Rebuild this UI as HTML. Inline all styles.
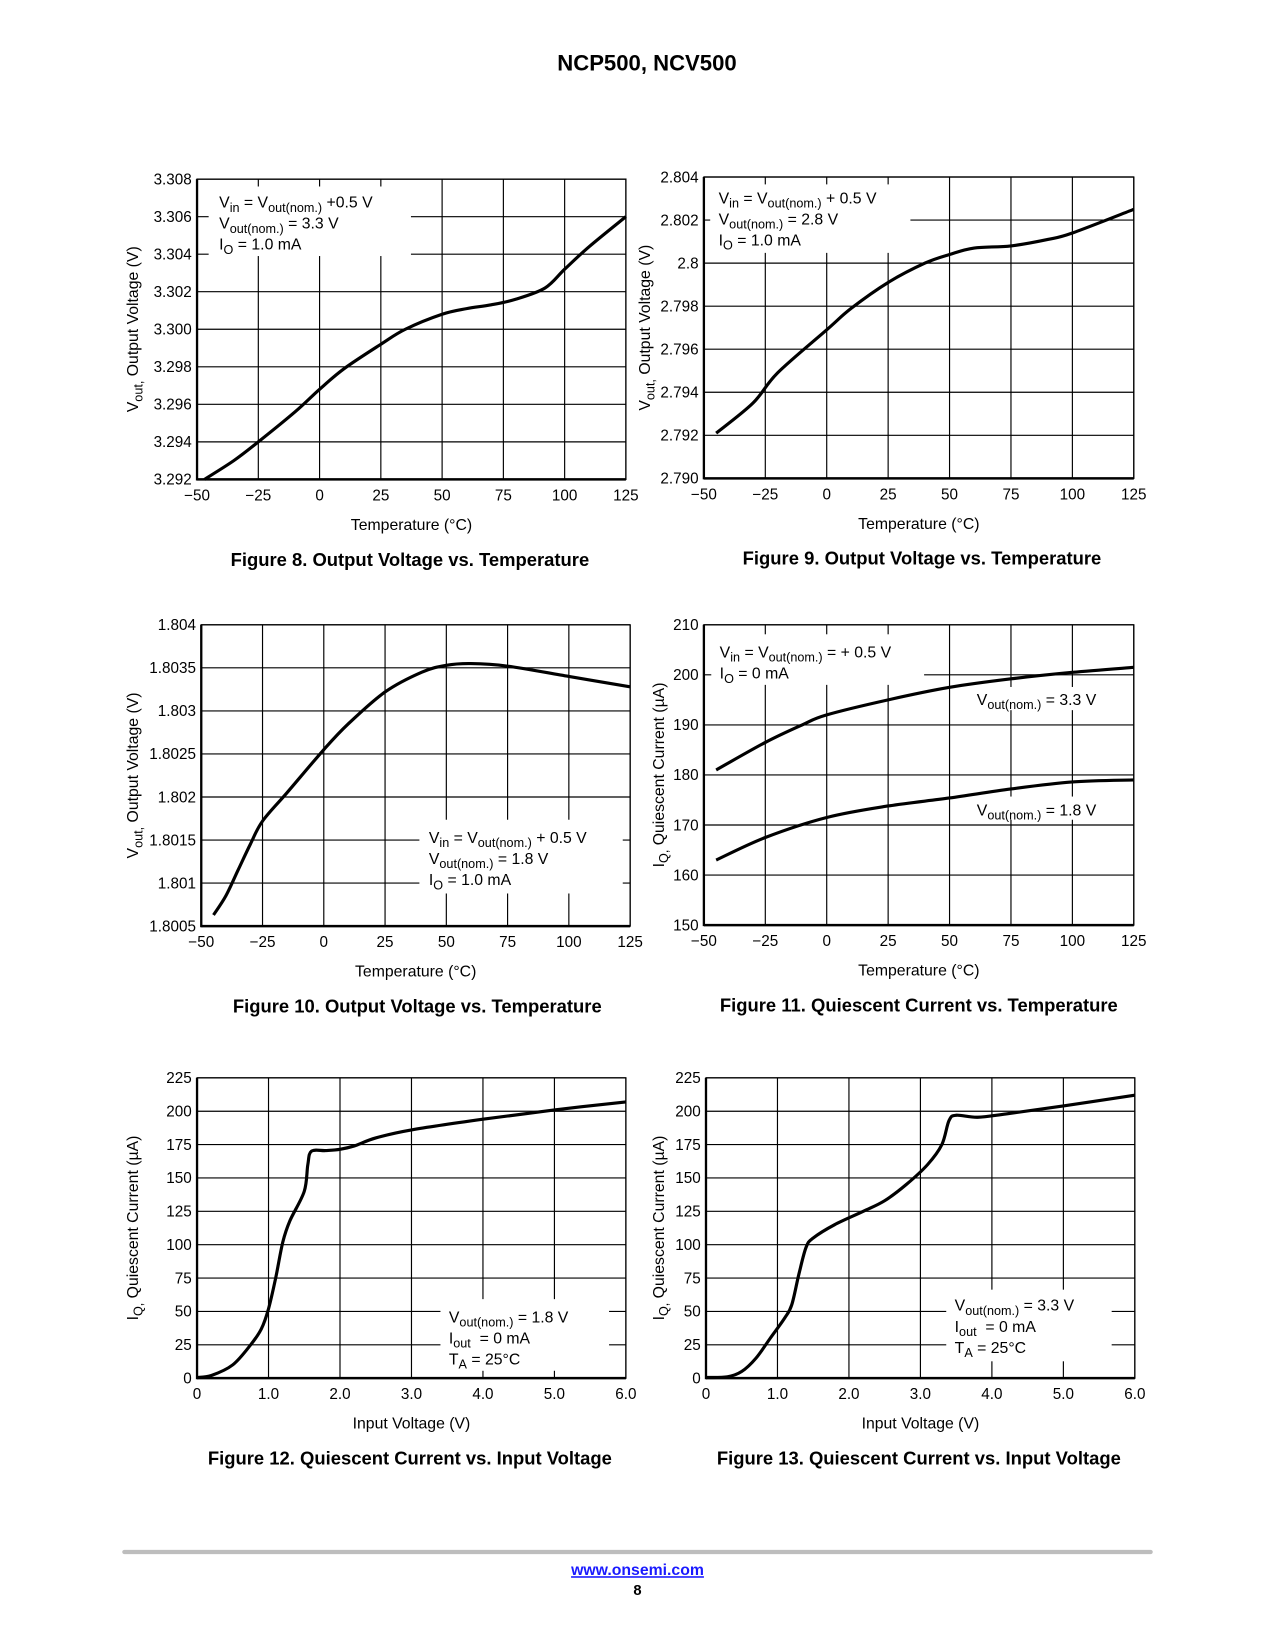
<!DOCTYPE html>
<html><head><meta charset="utf-8"><style>
html,body{margin:0;padding:0;background:#fff;}
svg{display:block;font-family:"Liberation Sans",sans-serif;}
</style></head><body>
<svg id="page" width="1275" height="1650" viewBox="0 0 1210 1566" preserveAspectRatio="none">
<text x="614" y="67" text-anchor="middle" font-size="21" font-weight="bold">NCP500, NCV500</text>
<g id="charts"></g>
<rect x="116" y="1471" width="978" height="4" rx="2" fill="#bdbdbd"/>
<text x="605" y="1495" text-anchor="middle" font-size="15" font-weight="bold" fill="#1a1aff" text-decoration="underline">www.onsemi.com</text>
<text x="605" y="1514" text-anchor="middle" font-size="14" font-weight="bold">8</text>
</svg>
<script>
// ---- data ----
const tempTicks = [-50,-25,0,25,50,75,100,125];
const vinTicks = [0,1,2,3,4,5,6];
const vinTickLabels = ["0","1.0","2.0","3.0","4.0","5.0","6.0"];
const f8Y = ["3.292","3.294","3.296","3.298","3.300","3.302","3.304","3.306","3.308"];
const f8T = [-47,-35,-25,-10,0,10,25,35,50,60,70,80,92,100,110,125];
const f8V = [3.2920,3.2930,3.2940,3.2956,3.2968,3.2979,3.2992,3.3000,3.3008,3.3011,3.3013,3.3016,3.3022,3.3032,3.3044,3.3060];
const f9Y = ["2.790","2.792","2.794","2.796","2.798","2.8","2.802","2.804"];
const f9T = [-45,-30,-20,0,10,25,40,50,60,75,90,100,125];
const f9V = [2.7921,2.7935,2.7949,2.7969,2.7979,2.7991,2.8000,2.8004,2.8007,2.8008,2.8011,2.8014,2.8025];
const f10Y = ["1.8005","1.801","1.8015","1.802","1.8025","1.803","1.8035","1.804"];
const f10T = [-45,-40,-35,-30,-25,-15,0,10,25,40,50,60,75,100,125];
const f10V = [1.80063,1.80085,1.80115,1.80145,1.80172,1.80205,1.80255,1.80285,1.80322,1.80345,1.80353,1.80355,1.80352,1.80340,1.80328];
const f11Y = ["150","160","170","180","190","200","210"];
const f11T = [-45,-25,-10,0,25,50,75,100,125];
const f11A = [181,186.5,190,192,195,197.5,199.2,200.5,201.5];
const f11T2 = [-45,-25,0,25,50,75,100,125];
const f11B = [163,167.5,171.5,173.8,175.4,177.2,178.6,179];
const iqY = ["0","25","50","75","100","125","150","175","200","225"];
const f12X = [0,0.2,0.5,0.75,0.9,1.0,1.1,1.2,1.3,1.5,1.55,1.6,1.8,2.0,2.2,2.5,3.0,4.0,5.0,6.0];
const f12V = [0.5,2,10,25,37,52,75,102,118,140,160,170,170.5,171.5,174,180,186,194,201,207];
const f13X = [0,0.3,0.5,0.7,0.9,1.1,1.2,1.3,1.4,1.5,1.8,2.2,2.5,2.8,3.1,3.3,3.4,3.5,3.8,4.2,5.0,6.0];
const f13V = [0.5,1,5,15,30,45,55,78,98,105,115,125,133,145,160,175,193,197,195.5,198,204,212];

const NS = "http://www.w3.org/2000/svg";
const root = document.getElementById('charts');
function mk(tag, attrs, parent){const e=document.createElementNS(NS,tag);for(const k in attrs)e.setAttribute(k,attrs[k]);(parent||root).appendChild(e);return e;}
function smooth(pts){
  let d="M"+pts[0][0]+","+pts[0][1];
  for(let i=0;i<pts.length-1;i++){
    const p0=pts[i-1]||pts[i],p1=pts[i],p2=pts[i+1],p3=pts[i+2]||p2;
    const c1=[p1[0]+(p2[0]-p0[0])/6,p1[1]+(p2[1]-p0[1])/6];
    const c2=[p2[0]-(p3[0]-p1[0])/6,p2[1]-(p3[1]-p1[1])/6];
    d+=" C"+c1[0]+","+c1[1]+" "+c2[0]+","+c2[1]+" "+p2[0]+","+p2[1];
  }
  return d;
}
function chart(o){
  const g=mk('g',{});
  
  
  const {x0,x1,y0,y1}=o;
  const xs=v=>x0+(v-o.xmin)/(o.xmax-o.xmin)*(x1-x0);
  const ymin=parseFloat(o.yLabels[0]), ymax=parseFloat(o.yLabels[o.yLabels.length-1]);
  const ys=v=>y1-(v-ymin)/(ymax-ymin)*(y1-y0);
  // grid
  o.xTicks.forEach((t,i)=>{
    const l=mk('line',{x1:xs(t),x2:xs(t),y1:y0,y2:y1,stroke:'#000','stroke-width':1.1},g);
    
    
    const tx=mk('text',{x:xs(t),y:y1+20,'text-anchor':'middle','font-size':14.5},g);
    
    
    tx.textContent=o.xLabels[i];
  });
  o.yLabels.forEach(s=>{
    const v=parseFloat(s);
    const l=mk('line',{x1:x0,x2:x1,y1:ys(v),y2:ys(v),stroke:'#000','stroke-width':1.1},g);
    
    
    const tx=mk('text',{x:x0-5,y:ys(v)+5,'text-anchor':'end','font-size':14.5},g);
    
    
    tx.textContent=s;
  });
  // legend boxes
  (o.boxes||[]).forEach(b=>{
    const r=mk('rect',{x:b[0],y:b[1],width:b[2],height:b[3],fill:'#fff'},g);
    
    
  });
  mk('rect',{x:x0,y:y0,width:x1-x0,height:y1-y0,fill:'none',stroke:'#000','stroke-width':1.2},g);
  mk('line',{x1:x0,x2:x0,y1:y0,y2:y1+1,stroke:'#000','stroke-width':2.2},g);
  mk('line',{x1:x0,x2:x1,y1:y1,y2:y1,stroke:'#000','stroke-width':2.4},g);
  o.series.forEach(s=>{
    const pts=s.x.map((v,i)=>[xs(v),ys(s.y[i])]);
    const p=mk('path',{d:smooth(pts),fill:'none',stroke:'#000','stroke-width':3,'stroke-linejoin':'round'},g);
    
    
  });
  // texts
  o.texts.forEach(t=>{
    const tx=mk('text',{x:t[0],y:t[1],'font-size':15},g);
    
    
    tx.innerHTML=t[2];
  });
  const xt=mk('text',{x:(x0+x1)/2,y:y1+48,'text-anchor':'middle','font-size':15},g);
  
  
  xt.textContent=o.xTitle;
  const yt=mk('text',{x:0,y:0,'text-anchor':'middle','font-size':15,transform:`translate(${o.ytx},${(y0+y1)/2}) rotate(-90)`},g);
  
  
  yt.innerHTML=o.yTitle;
  const cp=mk('text',{x:o.capx,y:y1+82,'text-anchor':'middle','font-size':17.5,'font-weight':'bold'},g);
  
  
  cp.textContent=o.caption;
}
const sub=s=>`<tspan dy="4" font-size="12">${s}</tspan><tspan dy="-4"> </tspan>`;
const vout=`V${sub('out,')}Output Voltage (V)`;
const iq=`I${sub('Q,')}Quiescent Current (µA)`;
const tempLabels=["\u221250","\u221225","0","25","50","75","100","125"];

chart({name:'figure-8-chart',x0:187,x1:594,y0:170,y1:455,xmin:-50,xmax:125,xTicks:tempTicks,xLabels:tempLabels,yLabels:f8Y,
 series:[{name:'vout-curve',x:f8T,y:f8V}],boxes:[[198,177,192,66]],
 texts:[[208,197,`V${sub('in')}= V${sub('out(nom.)')}+0.5 V`],[208,217,`V${sub('out(nom.)')}= 3.3 V`],[208,237,`I${sub('O')}= 1.0 mA`]],
 xTitle:'Temperature (°C)',yTitle:vout,ytx:131,capx:389,caption:'Figure 8. Output Voltage vs. Temperature'});
chart({name:'figure-9-chart',x0:668,x1:1076,y0:168,y1:454,xmin:-50,xmax:125,xTicks:tempTicks,xLabels:tempLabels,yLabels:f9Y,
 series:[{name:'vout-curve',x:f9T,y:f9V}],boxes:[[674,175,190,65]],
 texts:[[682,193,`V${sub('in')}= V${sub('out(nom.)')}+ 0.5 V`],[682,213,`V${sub('out(nom.)')}= 2.8 V`],[682,233,`I${sub('O')}= 1.0 mA`]],
 xTitle:'Temperature (°C)',yTitle:vout,ytx:617,capx:875,caption:'Figure 9. Output Voltage vs. Temperature'});
chart({name:'figure-10-chart',x0:191,x1:598,y0:593,y1:879,xmin:-50,xmax:125,xTicks:tempTicks,xLabels:tempLabels,yLabels:f10Y,
 series:[{name:'vout-curve',x:f10T,y:f10V}],boxes:[[398,778,193,70]],
 texts:[[407,800,`V${sub('in')}= V${sub('out(nom.)')}+ 0.5 V`],[407,820,`V${sub('out(nom.)')}= 1.8 V`],[407,840,`I${sub('O')}= 1.0 mA`]],
 xTitle:'Temperature (°C)',yTitle:vout,ytx:131,capx:396,caption:'Figure 10. Output Voltage vs. Temperature'});
chart({name:'figure-11-chart',x0:668,x1:1076,y0:593,y1:878,xmin:-50,xmax:125,xTicks:tempTicks,xLabels:tempLabels,yLabels:f11Y,
 series:[{name:'iq-3v3-curve',x:f11T,y:f11A},{name:'iq-1v8-curve',x:f11T2,y:f11B}],
 boxes:[[675,602,202,48],[920,652,130,22],[920,756,130,22]],
 texts:[[683,624,`V${sub('in')}= V${sub('out(nom.)')}= + 0.5 V`],[683,644,`I${sub('O')}= 0 mA`],[927,669,`V${sub('out(nom.)')}= 3.3 V`],[927,774,`V${sub('out(nom.)')}= 1.8 V`]],
 xTitle:'Temperature (°C)',yTitle:iq,ytx:630,capx:872,caption:'Figure 11. Quiescent Current vs. Temperature'});
chart({name:'figure-12-chart',x0:187,x1:594,y0:1023,y1:1308,xmin:0,xmax:6,xTicks:vinTicks,xLabels:vinTickLabels,yLabels:iqY,
 series:[{name:'iq-curve',x:f12X,y:f12V}],boxes:[[418,1233,160,68]],
 texts:[[426,1255,`V${sub('out(nom.)')}= 1.8 V`],[426,1275,`I${sub('out')}&#160;= 0 mA`],[426,1295,`T${sub('A')}= 25°C`]],
 xTitle:'Input Voltage (V)',yTitle:iq,ytx:131,capx:389,caption:'Figure 12. Quiescent Current vs. Input Voltage'});
chart({name:'figure-13-chart',x0:670,x1:1077,y0:1023,y1:1308,xmin:0,xmax:6,xTicks:vinTicks,xLabels:vinTickLabels,yLabels:iqY,
 series:[{name:'iq-curve',x:f13X,y:f13V}],boxes:[[898,1224,157,68]],
 texts:[[906,1244,`V${sub('out(nom.)')}= 3.3 V`],[906,1264,`I${sub('out')}&#160;= 0 mA`],[906,1284,`T${sub('A')}= 25°C`]],
 xTitle:'Input Voltage (V)',yTitle:iq,ytx:630,capx:872,caption:'Figure 13. Quiescent Current vs. Input Voltage'});
</script>
</body></html>
